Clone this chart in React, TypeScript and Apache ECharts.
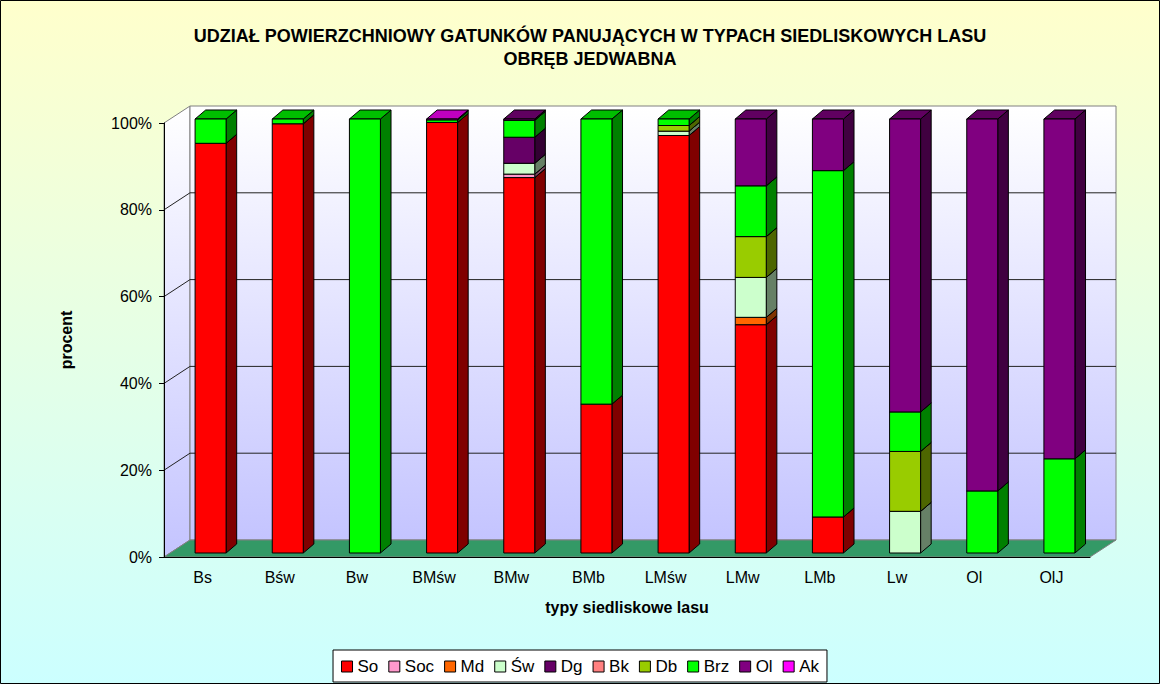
import React, { useEffect, useRef } from 'react';
import * as echarts from 'echarts';

const categories = ['Bs', 'Bśw', 'Bw', 'BMśw', 'BMw', 'BMb', 'LMśw', 'LMw', 'LMb', 'Lw', 'Ol', 'OlJ'];
const speciesNames = ['So', 'Soc', 'Md', 'Św', 'Dg', 'Bk', 'Db', 'Brz', 'Ol', 'Ak'];

const So = [94.4, 98.9, 0, 99.2, 86.5, 34.3, 96.2, 52.6, 8.3, 0, 0, 0];
const Soc = [0, 0, 0, 0, 0.8, 0, 0, 0, 0, 0, 0, 0];
const Md = [0, 0, 0, 0, 0, 0, 0, 1.7, 0, 0, 0, 0];
const Sw = [0, 0, 0, 0, 2.5, 0, 1.0, 9.2, 0, 9.6, 0, 0];
const Dg = [0, 0, 0, 0, 6.0, 0, 0, 0, 0, 0, 0, 0];
const Bk = [0, 0, 0, 0, 0, 0, 0, 0, 0, 0, 0, 0];
const Db = [0, 0, 0, 0, 0, 0, 1.3, 9.4, 0, 13.8, 0, 0];
const Brz = [5.6, 1.1, 100, 0.6, 3.9, 65.7, 1.5, 11.7, 79.8, 9.1, 14.3, 21.7];
const Ol = [0, 0, 0, 0, 0.3, 0, 0, 15.4, 11.9, 67.5, 85.7, 78.3];
const Ak = [0, 0, 0, 0.2, 0, 0, 0, 0, 0, 0, 0, 0];

const yTicks = [0, 20, 40, 60, 80, 100];

const speciesColors = ['#FF0000', '#FF99CC', '#FF6600', '#CCFFCC', '#660066', '#FF8080', '#99CC00', '#00FF00', '#800080', '#FF00FF'];

const FONT = '"Liberation Sans", Arial, sans-serif';
// 3D geometry (pixels)
const WALL_DX = 26;
const WALL_DY = -17;
const BAR_OFF_X = 8;
const BAR_OFF_Y = -4;
const BAR_HALF = 15.5;
const BAR_DX = 10.6;
const BAR_DY = -9;

function shade(hex: string, f: number): string {
  const n = parseInt(hex.slice(1), 16);
  const r = Math.round(((n >> 16) & 255) * f);
  const g = Math.round(((n >> 8) & 255) * f);
  const b = Math.round((n & 255) * f);
  return `rgb(${r},${g},${b})`;
}

export default function App() {
  const ref = useRef<HTMLDivElement>(null);
  useEffect(() => {
    document.body.style.margin = '0';
    const chart = echarts.init(ref.current as HTMLDivElement, null, { renderer: 'svg' });
    const values = [So, Soc, Md, Sw, Dg, Bk, Db, Brz, Ol, Ak];
    const bases = categories.map(() => 0);

    const wallGrad = () =>
      new echarts.graphic.LinearGradient(0, 0, 0, 1, [
        { offset: 0, color: '#FFFFFF' },
        { offset: 1, color: '#C4C4FF' },
      ]);

    const wallsSeries: any = {
      type: 'custom',
      name: 'walls',
      silent: true,
      z: 1,
      data: [[0, 0]],
      renderItem: (params: any, api: any) => {
        const cs = params.coordSys;
        const x0 = cs.x;
        const x1 = cs.x + cs.width;
        const yTop = cs.y;
        const yBot = cs.y + cs.height;
        const children: any[] = [];
        children.push({
          type: 'polygon',
          shape: { points: [[x0, yTop], [x0 + WALL_DX, yTop + WALL_DY], [x0 + WALL_DX, yBot + WALL_DY], [x0, yBot]] },
          style: { fill: wallGrad(), stroke: '#808080', lineWidth: 1 },
        });
        children.push({
          type: 'polygon',
          shape: { points: [[x0 + WALL_DX, yTop + WALL_DY], [x1 + WALL_DX, yTop + WALL_DY], [x1 + WALL_DX, yBot + WALL_DY], [x0 + WALL_DX, yBot + WALL_DY]] },
          style: { fill: wallGrad(), stroke: '#808080', lineWidth: 1 },
        });
        yTicks.forEach((v) => {
          if (v === 0 || v === 100) return;
          const y = api.coord([0, v])[1];
          children.push({
            type: 'polyline',
            shape: { points: [[x0, y], [x0 + WALL_DX, y + WALL_DY], [x1 + WALL_DX, y + WALL_DY]] },
            style: { stroke: '#222', lineWidth: 1, fill: 'none' },
          });
        });
        children.push({
          type: 'polygon',
          shape: { points: [[x0, yBot], [x1, yBot], [x1 + WALL_DX, yBot + WALL_DY], [x0 + WALL_DX, yBot + WALL_DY]] },
          style: { fill: '#339966', stroke: '#808080', lineWidth: 1 },
        });
        return { type: 'group', children };
      },
    };

    const barSeries = speciesNames.map((name, si) => {
      const data: number[][] = [];
      values[si].forEach((v, ci) => {
        const b = bases[ci];
        bases[ci] += v;
        if (v > 0) data.push([ci, b, b + v]);
      });
      const col = speciesColors[si];
      return {
        type: 'custom',
        name,
        z: 3,
        itemStyle: { color: col, borderColor: '#000', borderWidth: 1 },
        encode: { x: 0, y: [1, 2] },
        data,
        renderItem: (params: any, api: any) => {
          const ci = api.value(0);
          const b = api.value(1);
          const t = api.value(2);
          const c0 = api.coord([ci, b]);
          const c1 = api.coord([ci, t]);
          const xl = c0[0] + BAR_OFF_X - BAR_HALF;
          const xr = c0[0] + BAR_OFF_X + BAR_HALF;
          const yb = c0[1] + BAR_OFF_Y;
          const yt = c1[1] + BAR_OFF_Y;
          return {
            type: 'group',
            children: [
              {
                type: 'polygon',
                shape: { points: [[xr, yb], [xr + BAR_DX, yb + BAR_DY], [xr + BAR_DX, yt + BAR_DY], [xr, yt]] },
                style: { fill: shade(col, 0.5), stroke: '#000', lineWidth: 1 },
              },
              {
                type: 'polygon',
                shape: { points: [[xl, yt], [xr, yt], [xr + BAR_DX, yt + BAR_DY], [xl + BAR_DX, yt + BAR_DY]] },
                style: { fill: shade(col, 0.75), stroke: '#000', lineWidth: 1 },
              },
              {
                type: 'rect',
                shape: { x: xl, y: yt, width: xr - xl, height: yb - yt },
                style: { fill: col, stroke: '#000', lineWidth: 1 },
              },
            ],
          };
        },
      };
    });

    chart.setOption({
      animation: false,
      backgroundColor: new echarts.graphic.LinearGradient(0, 0, 0, 1, [
        { offset: 0, color: '#FFFFCC' },
        { offset: 1, color: '#CCFFFF' },
      ]),
      title: {
        text: 'UDZIAŁ POWIERZCHNIOWY GATUNKÓW PANUJĄCYCH W TYPACH SIEDLISKOWYCH LASU\nOBRĘB JEDWABNA',
        left: 585,
        top: 19,
        textAlign: 'center',
        textStyle: { fontFamily: FONT, fontSize: 18, fontWeight: 'bold', lineHeight: 23, color: '#000' },
      },
      legend: {
        data: speciesNames,
        bottom: 2,
        left: 'center',
        backgroundColor: '#FFFFFF',
        borderColor: '#000',
        borderWidth: 1,
        padding: [8, 8, 7, 8],
        itemGap: 10,
        itemWidth: 11,
        itemHeight: 11,
        icon: 'rect',
        itemStyle: { borderColor: '#000', borderWidth: 1 },
        textStyle: { fontFamily: FONT, fontSize: 17, color: '#000' },
      },
      grid: { left: 164, right: 70, top: 123, bottom: 127 },
      xAxis: {
        type: 'category',
        data: categories,
        z: 5,
        axisLine: { lineStyle: { color: '#000', width: 1 } },
        axisTick: { length: 7, lineStyle: { color: '#000' } },
        axisLabel: { fontFamily: FONT, fontSize: 16, color: '#000', margin: 12 },
        name: 'typy siedliskowe lasu',
        nameLocation: 'middle',
        nameGap: 42,
        nameTextStyle: { fontFamily: FONT, fontSize: 16, fontWeight: 'bold', color: '#000' },
      },
      yAxis: {
        type: 'value',
        min: 0,
        max: 100,
        interval: 20,
        z: 5,
        axisLine: { show: true, lineStyle: { color: '#000', width: 1 } },
        axisTick: { show: true, length: 5, lineStyle: { color: '#000' } },
        axisLabel: { fontFamily: FONT, fontSize: 16, color: '#000', margin: 12, formatter: '{value}%' },
        splitLine: { show: false },
        name: 'procent',
        nameLocation: 'middle',
        nameGap: 90,
        nameTextStyle: { fontFamily: FONT, fontSize: 16, fontWeight: 'bold', color: '#000' },
      },
      graphic: [
        {
          type: 'rect',
          silent: true,
          z: 100,
          shape: { x: 0.5, y: 0.5, width: 1159, height: 683 },
          style: { fill: 'none', stroke: '#000', lineWidth: 1 },
        },
      ],
      series: [wallsSeries, ...barSeries],
    });
    return () => chart.dispose();
  }, []);
  return <div ref={ref} style={{ width: 1160, height: 684 }} />;
}
